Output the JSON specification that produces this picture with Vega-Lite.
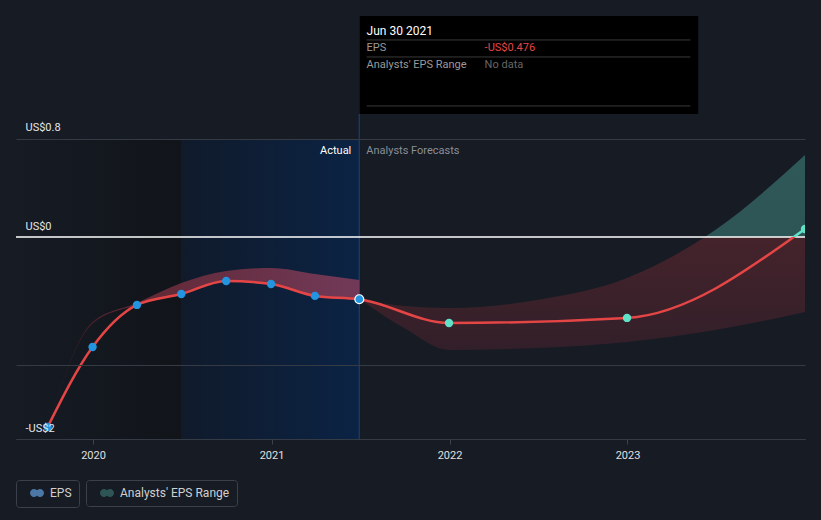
{
  "$schema": "https://vega.github.io/schema/vega-lite/v6.json",
  "width": 789,
  "height": 423,
  "autosize": {"type": "none"},
  "padding": {"left": 16, "top": 16, "right": 16, "bottom": 81},
  "background": "#161b24",
  "config": {"view": {"stroke": null}, "font": "Roboto", "text": {"font": "Roboto"}},
  "datasets": {
    "eps": [
      {"date": "2019-09-30", "eps": -1.838, "type": "actual"},
      {"date": "2019-12-31", "eps": -0.917, "type": "actual"},
      {"date": "2020-03-31", "eps": -0.525, "type": "actual"},
      {"date": "2020-06-30", "eps": -0.432, "type": "actual"},
      {"date": "2020-09-30", "eps": -0.326, "type": "actual"},
      {"date": "2020-12-31", "eps": -0.350, "type": "actual"},
      {"date": "2021-03-31", "eps": -0.448, "type": "actual"},
      {"date": "2021-06-30", "eps": -0.476, "type": "actual"},
      {"date": "2021-12-31", "eps": -0.686, "type": "forecast"},
      {"date": "2022-12-31", "eps": -0.640, "type": "forecast"},
      {"date": "2023-12-31", "eps": 0.056, "type": "forecast"}
    ],
    "pastBand": [
      {"date": "2019-09-30", "lo": -1.838, "hi": -1.838},
      {"date": "2019-12-31", "lo": -0.69, "hi": -0.677},
      {"date": "2020-03-31", "lo": -0.525, "hi": -0.508},
      {"date": "2020-06-30", "lo": -0.432, "hi": -0.342},
      {"date": "2020-09-30", "lo": -0.326, "hi": -0.247},
      {"date": "2020-12-31", "lo": -0.350, "hi": -0.224},
      {"date": "2021-03-31", "lo": -0.448, "hi": -0.270},
      {"date": "2021-06-30", "lo": -0.476, "hi": -0.318}
    ],
    "forecastBand": [
      {"date": "2021-06-30", "lo": -0.476, "hi": -0.476},
      {"date": "2021-09-30", "lo": -0.733, "hi": -0.534},
      {"date": "2021-12-31", "lo": -0.947, "hi": -0.551},
      {"date": "2022-06-30", "lo": -0.927, "hi": -0.482},
      {"date": "2022-12-31", "lo": -0.867, "hi": -0.302},
      {"date": "2023-06-30", "lo": -0.752, "hi": 0.049},
      {"date": "2023-12-31", "lo": -0.587, "hi": 0.650}
    ],
    "periods": [
      {"start": "2019-07-27", "end": "2020-06-30", "period": "past"},
      {"start": "2020-06-30", "end": "2021-06-30", "period": "recent"}
    ]
  },
  "layer": [
    {
      "data": {"name": "periods"},
      "transform": [{"filter": "datum.period == 'past'"}],
      "mark": {"type": "rect", "fill": {"gradient": "linear", "x1": 0, "y1": 0, "x2": 1, "y2": 0, "stops": [{"offset": 0, "color": "#161b24"}, {"offset": 1, "color": "#111419"}]}},
      "encoding": {
        "x": {"field": "start", "type": "temporal", "scale": {"type": "utc", "domain": [{"year": 2019, "month": 7, "date": 27, "utc": true}, {"year": 2023, "month": 12, "date": 31, "utc": true}]},
          "axis": {"title": null, "grid": false, "labelExpr": "utcFormat(datum.value, '%Y')", "values": [{"year": 2020, "month": 1, "date": 1, "utc": true}, {"year": 2021, "month": 1, "date": 1, "utc": true}, {"year": 2022, "month": 1, "date": 1, "utc": true}, {"year": 2023, "month": 1, "date": 1, "utc": true}],
            "domainColor": "#3d434d", "tickColor": "#3d434d", "tickSize": 5, "labelColor": "#e0e0e0", "labelFontSize": 11, "labelPadding": 5, "labelFont": "Roboto"}},
        "x2": {"field": "end"},
        "y": {"datum": 0.8, "type": "quantitative", "scale": {"type": "symlog", "constant": 2, "domain": [-2, 2.27], "nice": false, "zero": false},
          "axis": {"title": null, "values": [0.8, 0, -1.1, -2], "labelExpr": "datum.value == 0.8 ? 'US$0.8' : datum.value == 0 ? 'US$0' : datum.value == -2 ? '-US$2' : ''",
            "grid": true, "gridColor": {"condition": {"test": "datum.value == 0", "value": "transparent"}, "value": "#353b45"},
            "domain": false, "ticks": false, "tickSize": 0, "labelAlign": "left", "labelPadding": -9, "labelBaseline": "alphabetic", "labelOffset": -8, "labelColor": "#e6e6e6", "labelFontSize": 11, "labelFont": "Roboto", "zindex": 1}},
        "y2": {"datum": -2}
      }
    },
    {
      "data": {"name": "periods"},
      "transform": [{"filter": "datum.period == 'recent'"}],
      "mark": {"type": "rect", "fill": {"gradient": "linear", "x1": 0, "y1": 0, "x2": 1, "y2": 0, "stops": [{"offset": 0, "color": "#101a2b"}, {"offset": 1, "color": "#0b2344"}]}},
      "encoding": {
        "x": {"field": "start", "type": "temporal"},
        "x2": {"field": "end"},
        "y": {"datum": 0.8, "type": "quantitative"},
        "y2": {"datum": -2}
      }
    },
    {
      "data": {"values": [{"label": "hover"}]},
      "mark": {"type": "rule", "color": "#1b3860", "strokeWidth": 1.5},
      "encoding": {
        "x": {"datum": {"year": 2021, "month": 6, "date": 30, "utc": true}, "type": "temporal"},
        "y": {"datum": 1.051, "type": "quantitative"},
        "y2": {"datum": -2}
      }
    },
    {
      "data": {"name": "pastBand"},
      "mark": {"type": "area", "interpolate": "monotone", "opacity": 0.9, "fill": {"gradient": "linear", "x1": 0, "y1": 0, "x2": 1, "y2": 0, "stops": [{"offset": 0, "color": "#3d1a22"}, {"offset": 0.3, "color": "#6a2b38"}, {"offset": 1, "color": "#7d3c5a"}]}},
      "encoding": {
        "x": {"field": "date", "type": "temporal"},
        "y": {"field": "hi", "type": "quantitative"},
        "y2": {"field": "lo"}
      }
    },
    {
      "data": {"name": "forecastBand"},
      "mark": {"type": "area", "interpolate": "monotone", "fill": {"gradient": "linear", "x1": 0, "y1": 0, "x2": 0, "y2": 1, "stops": [{"offset": 0, "color": "#2f5858"}, {"offset": 0.42, "color": "#2e5556"}, {"offset": 0.421, "color": "#45232b"}, {"offset": 1, "color": "#321f29"}]}},
      "encoding": {
        "x": {"field": "date", "type": "temporal"},
        "y": {"field": "hi", "type": "quantitative"},
        "y2": {"field": "lo"}
      }
    },
    {
      "data": {"values": [{"label": "zero"}]},
      "mark": {"type": "rule", "color": "#ffffff", "strokeWidth": 1.5},
      "encoding": {"y": {"datum": 0, "type": "quantitative"}}
    },
    {
      "data": {"name": "eps"},
      "mark": {"type": "line", "interpolate": "monotone", "strokeWidth": 2.5, "clip": true,
        "stroke": {"gradient": "linear", "x1": 0, "y1": 0, "x2": 0, "y2": 1, "stops": [{"offset": 0, "color": "#5fe3c8"}, {"offset": 0.04, "color": "#5fe3c8"}, {"offset": 0.041, "color": "#e64545"}, {"offset": 1, "color": "#e64545"}]}},
      "encoding": {
        "x": {"field": "date", "type": "temporal"},
        "y": {"field": "eps", "type": "quantitative"}
      }
    },
    {
      "data": {"name": "eps"},
      "mark": {"type": "circle", "size": 70, "opacity": 1, "clip": true},
      "encoding": {
        "x": {"field": "date", "type": "temporal"},
        "y": {"field": "eps", "type": "quantitative"},
        "color": {"field": "type", "type": "nominal", "scale": {"domain": ["actual", "forecast"], "range": ["#2394df", "#5fe3c8"]}, "legend": null}
      }
    },
    {
      "data": {"name": "eps"},
      "transform": [{"filter": "datum.eps == -0.476"}],
      "mark": {"type": "circle", "size": 80, "opacity": 1, "fill": "#2394df", "stroke": "#ffffff", "strokeWidth": 1.2},
      "encoding": {
        "x": {"field": "date", "type": "temporal"},
        "y": {"field": "eps", "type": "quantitative"}
      }
    },
    {
      "data": {"values": [{"label": "EPS"}]},
      "mark": {"type": "point", "size": 0, "filled": true, "opacity": 1},
      "encoding": {
        "x": {"datum": {"year": 2021, "month": 6, "date": 30, "utc": true}, "type": "temporal"},
        "y": {"datum": -0.476, "type": "quantitative"},
        "stroke": {"field": "label", "type": "nominal", "scale": {"range": ["transparent"]},
          "legend": {"orient": "none", "legendX": 0, "legendY": 464, "title": null, "padding": 7, "symbolOffset": 8, "labelOffset": 7, "symbolSize": 64, "symbolOpacity": 1,
            "symbolType": "M -1.75 0 A 1 1 0 1 0 0.25 0 A 1 1 0 1 0 -1.75 0 Z M -0.25 0 A 1 1 0 1 0 1.75 0 A 1 1 0 1 0 -0.25 0 Z",
            "strokeColor": "#3b414b", "cornerRadius": 3, "labelColor": "#d0d0d0", "labelFontSize": 12, "labelFont": "Roboto",
            "encode": {"symbols": {"update": {"fill": {"value": {"gradient": "linear", "x1": 0, "y1": 0, "x2": 1, "y2": 0, "stops": [{"offset": 0, "color": "#2394df"}, {"offset": 0.45, "color": "#2394df"}, {"offset": 0.46, "color": "#5fe3c8"}, {"offset": 1, "color": "#5fe3c8"}]}}, "stroke": {"value": "transparent"}, "strokeWidth": {"value": 0}, "opacity": {"value": 1}, "fillOpacity": {"value": 1}, "size": {"value": 64}}}}}}
      }
    },
    {
      "data": {"values": [{"label": "Analysts' EPS Range"}]},
      "mark": {"type": "point", "size": 0, "filled": true, "opacity": 1},
      "encoding": {
        "x": {"datum": {"year": 2021, "month": 6, "date": 30, "utc": true}, "type": "temporal"},
        "y": {"datum": -0.476, "type": "quantitative"},
        "fill": {"field": "label", "type": "nominal", "scale": {"range": ["#2e5556"]},
          "legend": {"orient": "none", "legendX": 70, "legendY": 464, "title": null, "padding": 7, "symbolOffset": 8, "labelOffset": 7, "symbolSize": 64, "symbolOpacity": 1,
            "symbolType": "M -1.75 0 A 1 1 0 1 0 0.25 0 A 1 1 0 1 0 -1.75 0 Z M -0.25 0 A 1 1 0 1 0 1.75 0 A 1 1 0 1 0 -0.25 0 Z",
            "strokeColor": "#3b414b", "cornerRadius": 3, "labelColor": "#d0d0d0", "labelFontSize": 12, "labelFont": "Roboto",
            "encode": {"symbols": {"update": {"fill": {"value": {"gradient": "linear", "x1": 0, "y1": 0, "x2": 1, "y2": 0, "stops": [{"offset": 0, "color": "#1f5a85"}, {"offset": 0.45, "color": "#1f5a85"}, {"offset": 0.46, "color": "#2e7a70"}, {"offset": 1, "color": "#2e7a70"}]}}, "stroke": {"value": "transparent"}, "strokeWidth": {"value": 0}, "opacity": {"value": 1}, "fillOpacity": {"value": 1}, "size": {"value": 64}}}}}}
      }
    },
    {
      "data": {"values": [{"label": "Actual"}]},
      "mark": {"type": "text", "align": "right", "baseline": "middle", "dx": -8, "color": "#ffffff", "fontSize": 11},
      "encoding": {
        "x": {"datum": {"year": 2021, "month": 6, "date": 30, "utc": true}, "type": "temporal"},
        "y": {"datum": 0.687, "type": "quantitative"},
        "text": {"field": "label"}
      }
    },
    {
      "data": {"values": [{"label": "Analysts Forecasts"}]},
      "mark": {"type": "text", "align": "left", "baseline": "middle", "dx": 7, "color": "#8a8f98", "fontSize": 11},
      "encoding": {
        "x": {"datum": {"year": 2021, "month": 6, "date": 30, "utc": true}, "type": "temporal"},
        "y": {"datum": 0.687, "type": "quantitative"},
        "text": {"field": "label"}
      }
    },
    {
      "data": {"values": [{"label": "tooltip"}]},
      "mark": {"type": "rect", "fill": "#000000"},
      "encoding": {
        "x": {"datum": {"year": 2021, "month": 7, "date": 1, "utc": true}, "type": "temporal"},
        "x2": {"datum": {"year": 2023, "month": 5, "date": 26, "utc": true}},
        "y": {"datum": 2.27, "type": "quantitative"},
        "y2": {"datum": 1.051}
      }
    },
    {
      "data": {"values": [{"level": 1.933}, {"level": 1.710}, {"level": 1.136}]},
      "mark": {"type": "rule", "color": "#3a3a3a", "strokeWidth": 1},
      "encoding": {
        "x": {"datum": {"year": 2021, "month": 7, "date": 15, "utc": true}, "type": "temporal"},
        "x2": {"datum": {"year": 2023, "month": 5, "date": 10, "utc": true}},
        "y": {"field": "level", "type": "quantitative"}
      }
    },
    {
      "data": {"values": [{"label": "Jun 30 2021"}]},
      "mark": {"type": "text", "align": "left", "baseline": "middle", "color": "#ffffff", "fontSize": 12},
      "encoding": {
        "x": {"datum": {"year": 2021, "month": 7, "date": 15, "utc": true}, "type": "temporal"},
        "y": {"datum": 2.056, "type": "quantitative"},
        "text": {"field": "label"}
      }
    },
    {
      "data": {"values": [{"label": "EPS"}]},
      "mark": {"type": "text", "align": "left", "baseline": "middle", "color": "#9a9a9a", "fontSize": 11},
      "encoding": {
        "x": {"datum": {"year": 2021, "month": 7, "date": 15, "utc": true}, "type": "temporal"},
        "y": {"datum": 1.827, "type": "quantitative"},
        "text": {"field": "label"}
      }
    },
    {
      "data": {"values": [{"label": "-US$0.476"}]},
      "mark": {"type": "text", "align": "left", "baseline": "middle", "color": "#e64545", "fontSize": 11},
      "encoding": {
        "x": {"datum": {"year": 2022, "month": 3, "date": 14, "utc": true}, "type": "temporal"},
        "y": {"datum": 1.827, "type": "quantitative"},
        "text": {"field": "label"}
      }
    },
    {
      "data": {"values": [{"label": "Analysts' EPS Range"}]},
      "mark": {"type": "text", "align": "left", "baseline": "middle", "color": "#9a9a9a", "fontSize": 11},
      "encoding": {
        "x": {"datum": {"year": 2021, "month": 7, "date": 15, "utc": true}, "type": "temporal"},
        "y": {"datum": 1.609, "type": "quantitative"},
        "text": {"field": "label"}
      }
    },
    {
      "data": {"values": [{"label": "No data"}]},
      "mark": {"type": "text", "align": "left", "baseline": "middle", "color": "#666666", "fontSize": 11},
      "encoding": {
        "x": {"datum": {"year": 2022, "month": 3, "date": 14, "utc": true}, "type": "temporal"},
        "y": {"datum": 1.609, "type": "quantitative"},
        "text": {"field": "label"}
      }
    }
  ]
}
